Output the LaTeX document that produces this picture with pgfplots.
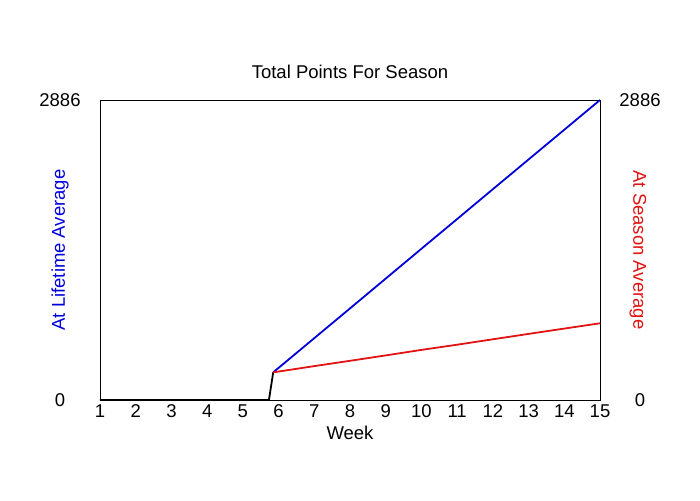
\documentclass[border=0pt]{standalone}
\usepackage{pgfplots}
\pgfplotsset{compat=1.18}
\usepackage{fontspec}
\setmainfont{Liberation Sans}
\definecolor{lblue}{RGB}{0,0,220}
\definecolor{lred}{RGB}{225,20,20}
\begin{document}
\begin{tikzpicture}[x=1pt,y=1pt]
\path (-100,-100) rectangle (600,400);
\begin{axis}[
  at={(0,0)}, anchor=south west,
  scale only axis, width=500pt, height=300pt,
  xmin=1, xmax=15, ymin=0, ymax=2886,
  xtick={1,...,15}, ytick={0,2886},
  major tick length=0pt,
  axis line style={line width=0.9pt},
  /pgf/number format/assume math mode=true,
  /pgf/number format/set thousands separator={},
  font=\fontsize{18.5}{20}\selectfont,
  xticklabel style={anchor=north, yshift=-1pt},
  yticklabel style={anchor=center, xshift=-40pt},
  xlabel={Week},
  xlabel style={at={(rel axis cs:0.5,0)}, anchor=center, yshift=-33pt},
  ylabel={At Lifetime Average},
  ylabel style={at={(rel axis cs:0,0.5)}, anchor=center, yshift=40pt, text=lblue},
  title={Total Points For Season},
  title style={at={(rel axis cs:0.5,1)}, anchor=center, yshift=22pt},
  clip=false,
]
\addplot[black, line width=1.8pt] coordinates {(1,0) (5.73,0) (5.85,266)};
\addplot[lblue, line width=1.8pt] coordinates {(5.85,266) (7,595) (8,881) (9,1168) (10,1455) (11,1741) (12,2028) (13,2314) (14,2600) (15,2886)};
\addplot[lred, line width=1.8pt] coordinates {(5.85,266) (7,326) (8,377) (9,429) (10,482) (11,532) (12,584) (13,636) (14,687) (15,738)};
\end{axis}
\begin{axis}[
  at={(0,0)}, anchor=south west,
  scale only axis, width=500pt, height=300pt,
  xmin=1, xmax=15, ymin=0, ymax=2886,
  axis x line=none, axis y line*=right,
  ytick={0,2886}, major tick length=0pt,
  axis line style={draw=none},
  /pgf/number format/assume math mode=true,
  /pgf/number format/set thousands separator={},
  font=\fontsize{18.5}{20}\selectfont,
  yticklabel style={anchor=center, xshift=40pt},
  ylabel={At Season Average},
  ylabel style={at={(rel axis cs:1,0.5)}, anchor=center, rotate=180, yshift=38pt, text=lred},
]
\end{axis}
\end{tikzpicture}
\end{document}
